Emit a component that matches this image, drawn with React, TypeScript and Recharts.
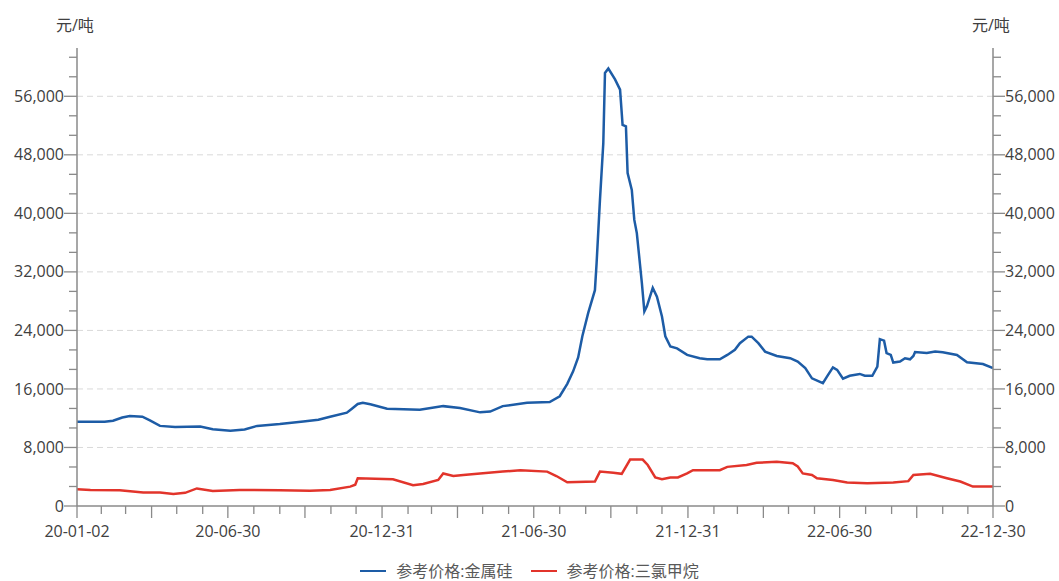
import React from "react";
import { CartesianGrid, Legend, Line, LineChart, XAxis, YAxis } from "recharts";

const START = "2020-01-02";
const END = "2022-12-30";

// 参考价格:金属硅 (元/吨)
const SILICON_DATES = [
  "2020-01-02", "2020-02-04", "2020-02-14", "2020-02-25", "2020-03-05", "2020-03-20", "2020-03-29",
  "2020-04-10", "2020-04-28", "2020-05-28", "2020-06-12", "2020-07-03", "2020-07-20", "2020-08-04",
  "2020-08-31", "2020-09-28", "2020-10-16", "2020-10-30", "2020-11-19", "2020-11-25", "2020-12-02",
  "2020-12-08", "2020-12-17", "2021-01-06", "2021-02-14", "2021-03-14", "2021-04-03", "2021-04-27",
  "2021-05-09", "2021-05-24", "2021-06-22", "2021-07-19", "2021-07-31", "2021-08-09", "2021-08-16",
  "2021-08-22", "2021-08-27", "2021-09-03", "2021-09-11", "2021-09-13", "2021-09-17", "2021-09-21",
  "2021-09-23", "2021-09-27", "2021-10-05", "2021-10-11", "2021-10-14", "2021-10-18", "2021-10-20",
  "2021-10-25", "2021-10-28", "2021-10-31", "2021-11-06", "2021-11-09", "2021-11-12", "2021-11-19",
  "2021-11-24", "2021-11-30", "2021-12-04", "2021-12-10", "2021-12-18", "2021-12-30", "2022-01-14",
  "2022-01-23", "2022-02-07", "2022-02-16", "2022-02-25", "2022-03-03", "2022-03-13", "2022-03-17",
  "2022-03-25", "2022-04-02", "2022-04-16", "2022-05-02", "2022-05-11", "2022-05-20", "2022-05-28",
  "2022-06-10", "2022-06-16", "2022-06-22", "2022-06-27", "2022-07-04", "2022-07-12", "2022-07-24",
  "2022-07-30", "2022-08-08", "2022-08-14", "2022-08-17", "2022-08-22", "2022-08-25", "2022-08-30",
  "2022-09-02", "2022-09-10", "2022-09-16", "2022-09-22", "2022-09-26", "2022-09-28", "2022-10-12",
  "2022-10-22", "2022-10-31", "2022-11-17", "2022-11-29", "2022-12-18", "2022-12-30",
];
const SILICON_PRICES = [
  11500, 11500, 11650, 12100, 12300, 12200, 11700,
  10950, 10800, 10850, 10500, 10300, 10450, 10950,
  11200, 11550, 11800, 12200, 12750, 13300, 13950,
  14100, 13900, 13300, 13150, 13650, 13400, 12800,
  12900, 13650, 14100, 14200, 15000, 16700, 18400,
  20300, 23200, 26400, 29500, 33200, 41800, 49600,
  59200, 59800, 58300, 56900, 52100, 51900, 45500,
  43200, 39100, 37300, 30500, 26600, 27300, 29800,
  28600, 25900, 23200, 21800, 21550, 20650, 20200,
  20050, 20050, 20650, 21350, 22250, 23150, 23150,
  22250, 21100, 20500, 20200, 19750, 18850, 17450,
  16800, 17900, 18950, 18600, 17400, 17800, 18050,
  17800, 17800, 19050, 22800, 22600, 20900, 20650,
  19600, 19750, 20200, 20050, 20500, 21050, 20900,
  21100, 21000, 20650, 19650, 19400, 18850,
];

// 参考价格:三氯甲烷 (元/吨)
const TCS_DATES = [
  "2020-01-02", "2020-01-18", "2020-02-22", "2020-03-21", "2020-04-10", "2020-04-26", "2020-05-10",
  "2020-05-24", "2020-06-12", "2020-07-14", "2020-08-31", "2020-10-06", "2020-10-30", "2020-11-23",
  "2020-11-29", "2020-12-02", "2021-01-13", "2021-02-06", "2021-02-18", "2021-03-08", "2021-03-14",
  "2021-03-26", "2021-04-07", "2021-04-27", "2021-05-24", "2021-06-14", "2021-07-16", "2021-07-27",
  "2021-08-09", "2021-09-11", "2021-09-17", "2021-10-03", "2021-10-13", "2021-10-23", "2021-11-07",
  "2021-11-13", "2021-11-22", "2021-11-30", "2021-12-10", "2021-12-19", "2021-12-30", "2022-01-06",
  "2022-02-07", "2022-02-16", "2022-03-11", "2022-03-23", "2022-04-16", "2022-05-05", "2022-05-11",
  "2022-05-17", "2022-05-28", "2022-06-03", "2022-06-22", "2022-07-09", "2022-08-02", "2022-09-02",
  "2022-09-20", "2022-09-26", "2022-10-16", "2022-11-05", "2022-11-21", "2022-12-06", "2022-12-30",
];
const TCS_PRICES = [
  2300, 2200, 2150, 1850, 1850, 1650, 1800,
  2400, 2050, 2200, 2150, 2100, 2200, 2650,
  2900, 3800, 3650, 2850, 3000, 3550, 4450,
  4100, 4250, 4450, 4700, 4900, 4700, 4100,
  3250, 3350, 4700, 4550, 4400, 6350, 6350,
  5600, 3900, 3650, 3900, 3900, 4450, 4900,
  4900, 5350, 5600, 5900, 6050, 5850, 5400,
  4450, 4250, 3800, 3550, 3200, 3100, 3200,
  3400, 4250, 4400, 3800, 3350, 2650, 2650,
];

const Y_MAX = 62600;
const Y_STEP = 8000;
const Y_SUB = 3;
const UNIT = "元/吨";
const SILICON_NAME = "参考价格:金属硅";
const TCS_NAME = "参考价格:三氯甲烷";

const BLUE = "#1d5ca6";
const RED = "#e2342b";
const AXIS = "#8a8a8a";
const TEXT = "#404040";
const FONT = "'Open Sans', 'Noto Sans CJK SC', sans-serif";

const DAY = 86400000;
const dayOf = (s: string) => (Date.parse(s) - Date.parse(START)) / DAY;
const END_DAY = dayOf(END);

const siliconData = SILICON_DATES.map((d, i) => ({ t: dayOf(d), v: SILICON_PRICES[i] }));
const tcsData = TCS_DATES.map((d, i) => ({ t: dayOf(d), v: TCS_PRICES[i] }));

// month-end ticks plus the two ends of the range
const xTicks: number[] = [0];
for (let y = 2020; y <= 2022; y++) {
  for (let m = 1; m <= 12; m++) {
    const t = (Date.UTC(y, m, 0) - Date.parse(START)) / DAY;
    if (t > 0 && t < END_DAY) xTicks.push(t);
  }
}
xTicks.push(END_DAY);

const dateOfDay = (t: number) => new Date(Date.parse(START) + t * DAY);
const fmtDate = (t: number) => {
  const d = dateOfDay(t);
  const p = (n: number) => String(n).padStart(2, "0");
  return `${p(d.getUTCFullYear() % 100)}-${p(d.getUTCMonth() + 1)}-${p(d.getUTCDate())}`;
};

const yTicks: number[] = [];
for (let i = 0; (i * Y_STEP) / Y_SUB <= Y_MAX; i++) yTicks.push((i * Y_STEP) / Y_SUB);
const yMajor = yTicks.filter((_, i) => i % Y_SUB === 0);
const isMajor = (v: number) => Math.abs(v / Y_STEP - Math.round(v / Y_STEP)) < 1e-6;

function LeftTick({ x, y, payload }: any) {
  const major = isMajor(payload.value);
  return (
    <g>
      <line x1={x - (major ? 13 : 8)} x2={x} y1={y} y2={y} stroke={AXIS} strokeWidth={1.3} />
      {major && (
        <text x={x - 13} y={y} dy="0.35em" textAnchor="end" fontSize={16} fill={TEXT} fontFamily={FONT}>
          {payload.value.toLocaleString("en-US")}
        </text>
      )}
    </g>
  );
}

function RightTick({ x, y, payload }: any) {
  const major = isMajor(payload.value);
  return (
    <g>
      <line x1={x} x2={x + (major ? 12 : 8)} y1={y} y2={y} stroke={AXIS} strokeWidth={1.3} />
      {major && (
        <text x={x + 12} y={y} dy="0.35em" textAnchor="start" fontSize={16} fill={TEXT} fontFamily={FONT}>
          {payload.value.toLocaleString("en-US")}
        </text>
      )}
    </g>
  );
}

function BottomTick({ x, y, payload }: any) {
  const t = payload.value;
  const d = dateOfDay(t);
  const month = d.getUTCMonth() + 1;
  const ends = t === 0 || t === END_DAY;
  const labelled = ends || month === 6 || month === 12;
  const long = ends || month % 3 === 0;
  return (
    <g>
      <line x1={x} x2={x} y1={y} y2={y + (long ? 12 : 8)} stroke={AXIS} strokeWidth={1.3} />
      {labelled && (
        <text x={x} y={y + 31} textAnchor="middle" fontSize={16} fill={TEXT} fontFamily={FONT}>
          {fmtDate(t)}
        </text>
      )}
    </g>
  );
}

function LegendContent() {
  const items = [
    { name: SILICON_NAME, color: BLUE },
    { name: TCS_NAME, color: RED },
  ];
  return (
    <div
      style={{
        display: "flex",
        justifyContent: "center",
        gap: 18,
        fontFamily: FONT,
        fontSize: 16,
        lineHeight: "18px",
        color: "#595959",
      }}
    >
      {items.map((it) => (
        <div key={it.name} style={{ display: "flex", alignItems: "center", gap: 10 }}>
          <span style={{ display: "inline-block", width: 26, height: 2.5, background: it.color }} />
          <span>{it.name}</span>
        </div>
      ))}
    </div>
  );
}

export default function App() {
  return (
    <div style={{ position: "absolute", left: 0, top: 0, width: 1059, height: 581, background: "#fff" }}>
      <div style={{ position: "absolute", left: 56, top: 12, fontSize: 16, color: TEXT, fontFamily: FONT }}>{UNIT}</div>
      <div style={{ position: "absolute", left: 972, top: 12, fontSize: 16, color: TEXT, fontFamily: FONT }}>{UNIT}</div>
      <LineChart width={1059} height={581} margin={{ top: 48, right: 0, bottom: 45, left: 0 }}>
        <CartesianGrid
          vertical={false}
          horizontalValues={yMajor.filter((v) => v > 0)}
          stroke="#d9d9d9"
          strokeDasharray="6 4"
          yAxisId="left"
        />
        <XAxis
          type="number"
          dataKey="t"
          domain={[0, END_DAY]}
          ticks={xTicks}
          interval={0}
          allowDataOverflow
          height={30}
          tickSize={0}
          tickMargin={0}
          tickLine={false}
          tick={<BottomTick />}
          axisLine={{ stroke: AXIS, strokeWidth: 1.5 }}
        />
        <YAxis
          yAxisId="left"
          orientation="left"
          width={77}
          domain={[0, Y_MAX]}
          ticks={yTicks}
          interval={0}
          allowDataOverflow
          tickSize={0}
          tickMargin={0}
          tickLine={false}
          tick={<LeftTick />}
          axisLine={{ stroke: AXIS, strokeWidth: 1.5 }}
        />
        <YAxis
          yAxisId="right"
          orientation="right"
          width={66}
          domain={[0, Y_MAX]}
          ticks={yTicks}
          interval={0}
          allowDataOverflow
          tickSize={0}
          tickMargin={0}
          tickLine={false}
          tick={<RightTick />}
          axisLine={{ stroke: AXIS, strokeWidth: 1.5 }}
        />
        <Legend
          layout="horizontal"
          verticalAlign="middle"
          align="center"
          wrapperStyle={{ top: 562, left: 0, width: 1059, height: 18 }}
          content={<LegendContent />}
        />
        <Line
          yAxisId="left"
          data={tcsData}
          dataKey="v"
          name={TCS_NAME}
          type="linear"
          stroke={RED}
          strokeWidth={2.5}
          dot={false}
          isAnimationActive={false}
        />
        <Line
          yAxisId="left"
          data={siliconData}
          dataKey="v"
          name={SILICON_NAME}
          type="linear"
          stroke={BLUE}
          strokeWidth={2.5}
          dot={false}
          isAnimationActive={false}
        />
      </LineChart>
    </div>
  );
}
